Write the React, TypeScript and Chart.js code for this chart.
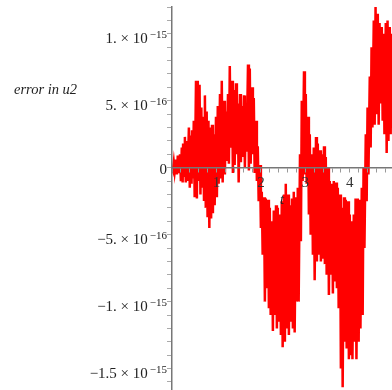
import React, { useEffect, useRef } from 'react';
import { Chart, registerables } from 'chart.js';

Chart.register(...registerables);

// time samples (t) and error values (in units of 1e-16)
const tValues = [
  0.00, 0.02, 0.04, 0.06, 0.09, 0.11, 0.13, 0.15, 0.18, 0.20,
  0.22, 0.24, 0.25, 0.27, 0.29, 0.31, 0.33, 0.35, 0.38, 0.40,
  0.42, 0.44, 0.45, 0.47, 0.49, 0.51, 0.54, 0.56, 0.58, 0.60,
  0.62, 0.64, 0.66, 0.68, 0.70, 0.72, 0.74, 0.76, 0.78, 0.80,
  0.82, 0.84, 0.86, 0.88, 0.90, 0.92, 0.94, 0.96, 0.99, 1.01,
  1.03, 1.05, 1.08, 1.10, 1.12, 1.14, 1.17, 1.19, 1.21, 1.23,
  1.26, 1.28, 1.30, 1.32, 1.35, 1.37, 1.39, 1.41, 1.44, 1.46,
  1.48, 1.50, 1.53, 1.55, 1.57, 1.59, 1.62, 1.64, 1.66, 1.68,
  1.71, 1.73, 1.75, 1.77, 1.80, 1.82, 1.84, 1.86, 1.89, 1.91,
  1.93, 1.95, 1.98, 2.00, 2.02, 2.04, 2.07, 2.09, 2.11, 2.13,
  2.16, 2.18, 2.20, 2.22, 2.25, 2.27, 2.29, 2.31, 2.34, 2.36,
  2.38, 2.40, 2.43, 2.45, 2.47, 2.49, 2.52, 2.54, 2.56, 2.58,
  2.61, 2.63, 2.65, 2.67, 2.70, 2.72, 2.74, 2.76, 2.79, 2.81,
  2.83, 2.85, 2.88, 2.90, 2.92, 2.94, 2.97, 2.99, 3.01, 3.03,
  3.06, 3.08, 3.10, 3.12, 3.15, 3.17, 3.19, 3.21, 3.24, 3.26,
  3.28, 3.30, 3.33, 3.35, 3.37, 3.39, 3.42, 3.44, 3.46, 3.48,
  3.51, 3.53, 3.55, 3.57, 3.60, 3.62, 3.64, 3.66, 3.69, 3.71,
  3.73, 3.75, 3.78, 3.80, 3.82, 3.84, 3.87, 3.89, 3.91, 3.93,
  3.96, 3.98, 4.00, 4.02, 4.04, 4.06, 4.09, 4.11, 4.13, 4.15,
  4.18, 4.20, 4.22, 4.24, 4.27, 4.29, 4.31, 4.33, 4.36, 4.38,
  4.40, 4.42, 4.45, 4.47, 4.49, 4.51, 4.54, 4.56, 4.58, 4.60,
  4.63, 4.65, 4.67, 4.69, 4.72, 4.74, 4.76, 4.78, 4.81, 4.83,
  4.85, 4.87, 4.90, 4.92, 4.94, 4.96,
];

const errorValues = [
  0.0, -0.2, 0.4, -0.3, 0.6, -0.5, 0.9, -0.4, 1.0, -1.0,
  1.5, -1.1, 1.8, -0.6, 2.3, -1.1, 2.0, -1.0, 3.0, -1.5,
  2.4, -1.2, 2.8, -0.8, 3.5, -2.2, 6.5, -2.3, 6.5, -1.0,
  6.2, -2.0, 4.5, -1.5, 3.8, -2.4, 5.4, -3.0, 4.2, -3.7,
  3.5, -4.5, 3.0, -3.8, 3.2, -3.4, 2.5, -2.8, 3.8, -2.2,
  4.6, -1.2, 5.5, -0.8, 6.5, -1.1, 5.0, -0.5, 4.2, 0.5,
  5.5, 0.3, 7.6, 1.5, 6.5, -0.4, 5.8, 0.2, 6.3, 1.0,
  4.8, -1.1, 5.5, 0.4, 4.6, 0.8, 5.4, 0.0, 4.4, 1.2,
  7.7, -0.2, 7.4, 0.3, 6.0, 1.0, 5.2, -0.4, 3.5, -1.0,
  1.6, -2.5, 0.2, -4.5, -1.8, -6.5, -2.2, -10.0, -2.3, -9.0,
  -2.4, -10.5, -3.0, -11.0, -4.0, -12.2, -3.2, -11.0, -2.8, -12.0,
  -3.0, -11.5, -3.5, -12.5, -2.5, -13.4, -2.0, -13.0, -1.2, -12.0,
  -2.0, -12.5, -2.8, -11.5, -2.3, -12.0, -1.8, -12.3, -2.2, -10.0,
  -1.5, -10.0, 1.0, -5.5, 5.0, -1.0, 7.2, -0.5, 5.5, -1.2,
  3.8, -3.5, 2.5, -5.0, 1.0, -6.5, 1.5, -8.4, 2.3, -7.0,
  1.8, -6.5, 1.3, -7.0, 1.0, -6.8, 1.6, -7.2, 0.8, -8.0,
  0.0, -9.5, -1.0, -8.0, -1.2, -9.4, -1.0, -8.5, -1.1, -9.0,
  -1.5, -10.5, -2.0, -15.0, -3.0, -16.4, -2.2, -13.0, -2.4, -13.5,
  -2.5, -14.3, -3.5, -14.0, -4.0, -14.3, -3.5, -13.0, -2.3, -14.3,
  -2.3, -13.0, -2.4, -12.0, -1.5, -11.0, 0.0, -6.0, 2.5, -2.5,
  4.5, -0.5, 6.8, 1.5, 9.0, 3.0, 11.0, 3.2, 12.0, 4.0,
  11.5, 3.2, 10.8, 4.8, 10.5, 3.5, 10.0, 2.5, 10.8, 1.1,
  11.0, 2.0, 10.5, 2.5, 10.0, 3.0,
];

const xTickValues = [1, 2, 3, 4];
const xTickLabels = ['1', '2', '3', '4'];
const yTickValues = [-15, -10, -5, 0, 5, 10];
const yTickMantissas = ['\u22121.5 \u00d7 10', '\u22121. \u00d7 10', '\u22125. \u00d7 10', '0', '5. \u00d7 10', '1. \u00d7 10'];
const yTickExponents = ['\u221215', '\u221215', '\u221216', '', '\u221216', '\u221215'];
const yAxisLabel = 'error in u2';
const xAxisLabel = 't';

const SERIF = '"Liberation Serif", "Times New Roman", serif';

const labelsPlugin = {
  id: 'mapleLabels',
  afterDraw(chart: any) {
    const { ctx, chartArea, scales } = chart;
    const xs = scales.x;
    const ys = scales.y;
    const axisX = xs.getPixelForValue(0);
    const axisY = ys.getPixelForValue(0);
    ctx.save();
    ctx.fillStyle = '#222';
    ctx.textBaseline = 'alphabetic';
    ctx.textAlign = 'right';
    yTickValues.forEach((v, i) => {
      const py = ys.getPixelForValue(v);
      const right = axisX - 5;
      const exp = yTickExponents[i];
      if (exp) {
        ctx.font = `11px ${SERIF}`;
        const ew = ctx.measureText(exp).width;
        ctx.fillText(exp, right, py + 4);
        ctx.font = `15px ${SERIF}`;
        ctx.fillText(yTickMantissas[i], right - ew - 2, py + 9);
      } else {
        ctx.font = `15px ${SERIF}`;
        ctx.fillText(yTickMantissas[i], right, py + 6.5);
      }
    });
    ctx.font = `italic 14.5px ${SERIF}`;
    ctx.textAlign = 'left';
    ctx.textBaseline = 'middle';
    ctx.fillText(yAxisLabel, 14, chartArea.top + 83);
    ctx.textAlign = 'center';
    ctx.fillText(xAxisLabel, (chartArea.left + chartArea.right) / 2, axisY + 32);
    ctx.restore();
  },
};

export default function App() {
  const canvasRef = useRef<HTMLCanvasElement>(null);

  useEffect(() => {
    document.body.style.margin = '0';
    const canvas = canvasRef.current;
    if (!canvas) return;
    const points = tValues.map((t, i) => ({ x: t, y: errorValues[i] }));
    const chart = new Chart(canvas, {
      type: 'line',
      data: {
        datasets: [
          {
            data: points,
            borderColor: '#ff0000',
            borderWidth: 2.5,
            pointRadius: 0,
            tension: 0,
            fill: false,
          },
        ],
      },
      options: {
        animation: false,
        responsive: false,
        layout: { padding: { left: 172, top: 7, right: 0, bottom: 0 } },
        plugins: {
          legend: { display: false },
          tooltip: { enabled: false },
          title: { display: false },
        },
        scales: {
          x: {
            type: 'linear',
            position: { y: 0 } as any,
            min: 0,
            max: 4.95,
            border: { display: true, color: '#777', width: 1.5, z: 1 },
            grid: { drawOnChartArea: false, drawTicks: true, tickLength: 4, color: '#999', z: 1 },
            ticks: {
              z: 1,
              stepSize: 0.2,
              includeBounds: false,
              autoSkip: false,
              maxRotation: 0,
              padding: 2,
              color: '#333',
              font: { family: SERIF, size: 15 },
              callback: (value: any) => {
                const idx = xTickValues.findIndex((v) => Math.abs(v - Number(value)) < 1e-6);
                return idx >= 0 ? xTickLabels[idx] : '';
              },
            },
          },
          y: {
            type: 'linear',
            position: { x: 0 } as any,
            min: -16.6,
            max: 12,
            border: { display: true, color: '#777', width: 1.5, z: 1 },
            grid: { drawOnChartArea: false, drawTicks: true, tickLength: 4, color: '#aaa', z: 1 },
            ticks: {
              stepSize: 1,
              includeBounds: false,
              autoSkip: false,
              display: false,
            },
          },
        },
      },
      plugins: [labelsPlugin],
    });
    return () => chart.destroy();
  }, []);

  return (
    <div style={{ width: 392, height: 390 }}>
      <canvas ref={canvasRef} width={392} height={390} style={{ display: 'block' }} />
    </div>
  );
}
